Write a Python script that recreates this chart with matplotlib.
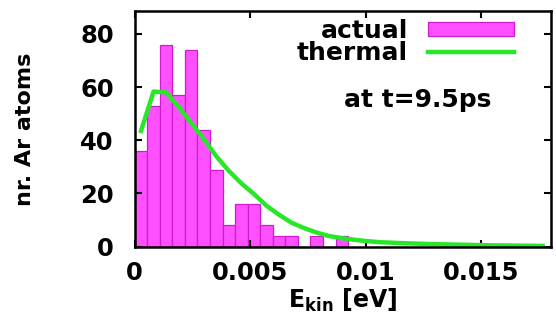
import matplotlib
matplotlib.use("Agg")
import matplotlib.pyplot as plt
import numpy as np

plt.rcParams['font.family'] = ['DejaVu Sans']
plt.rcParams['font.weight'] = 'bold'
plt.rcParams['mathtext.fontset'] = 'dejavusans'

# histogram of kinetic energies (bin width ~0.000543 eV)
bin_width = 0.000543
counts = [36, 53, 76, 57, 74, 44, 29, 8, 16, 16, 8, 4, 4, 0, 4, 0, 4]
# thermal (Maxwell) curve, sampled at the bin centres
thermal = [43.5, 58.3, 58.0, 52.5, 46.5, 40.5, 34.0, 28.5, 23.8, 19.8,
           15.4, 12.0, 9.0, 7.0, 5.3, 4.0, 3.2, 2.6, 2.1, 1.7,
           1.5, 1.3, 1.15, 1.0, 0.9, 0.8, 0.7, 0.6, 0.5, 0.45,
           0.4, 0.35, 0.3]
xticks = [0, 0.005, 0.01, 0.015]
xticklabels = ['0', '0.005', '0.01', '0.015']
yticks = [0, 20, 40, 60, 80]

bin_left = np.arange(len(counts)) * bin_width
centres = (np.arange(len(thermal)) + 0.5) * bin_width

fig = plt.figure(figsize=(5.56, 3.24), dpi=100)
ax = fig.add_axes([0.2423, 0.2386, 0.7482, 0.7275])

bars = ax.bar(bin_left, counts, width=bin_width, align='edge',
              facecolor='#ff50ff', edgecolor='#d01ad0', linewidth=0.9)
line, = ax.plot(centres, thermal, color='#28e628', linewidth=3.2,
                solid_joinstyle='round')

ax.set_xlim(0, 0.018)
ax.set_ylim(0, 88.6)
ax.set_xticks(xticks)
ax.set_xticklabels(xticklabels)
ax.set_yticks(yticks)
ax.tick_params(direction='in', top=True, right=True, length=5, width=1.5,
               labelsize=17.5)
ax.tick_params(axis='x', pad=10)
ax.tick_params(axis='y', pad=15)
for sp in ax.spines.values():
    sp.set_linewidth(1.8)

ax.set_xlabel(r'$\mathbf{E_{kin}}$ [eV]', fontsize=17, fontweight='bold')
ax.xaxis.set_label_coords(0.5, -0.17)
ax.xaxis.label.set_va('top')
ax.set_ylabel('nr. Ar atoms', fontsize=16, fontweight='bold')
ax.yaxis.set_label_coords(-0.264, 0.5)
ax.yaxis.label.set_va('center')

ax.legend([bars, line], ['actual', 'thermal'], loc='upper right',
          bbox_to_anchor=(0.912, 0.965), frameon=False,
          markerfirst=False, fontsize=18, handlelength=3.44, handleheight=0.5,
          handletextpad=0.8, labelspacing=-0.07, borderpad=0, borderaxespad=0)

ax.text(0.681, 0.622, 'at t=9.5ps', transform=ax.transAxes, fontsize=18,
        fontweight='bold', ha='center', va='center')

fig.savefig('out.png', dpi=100)
